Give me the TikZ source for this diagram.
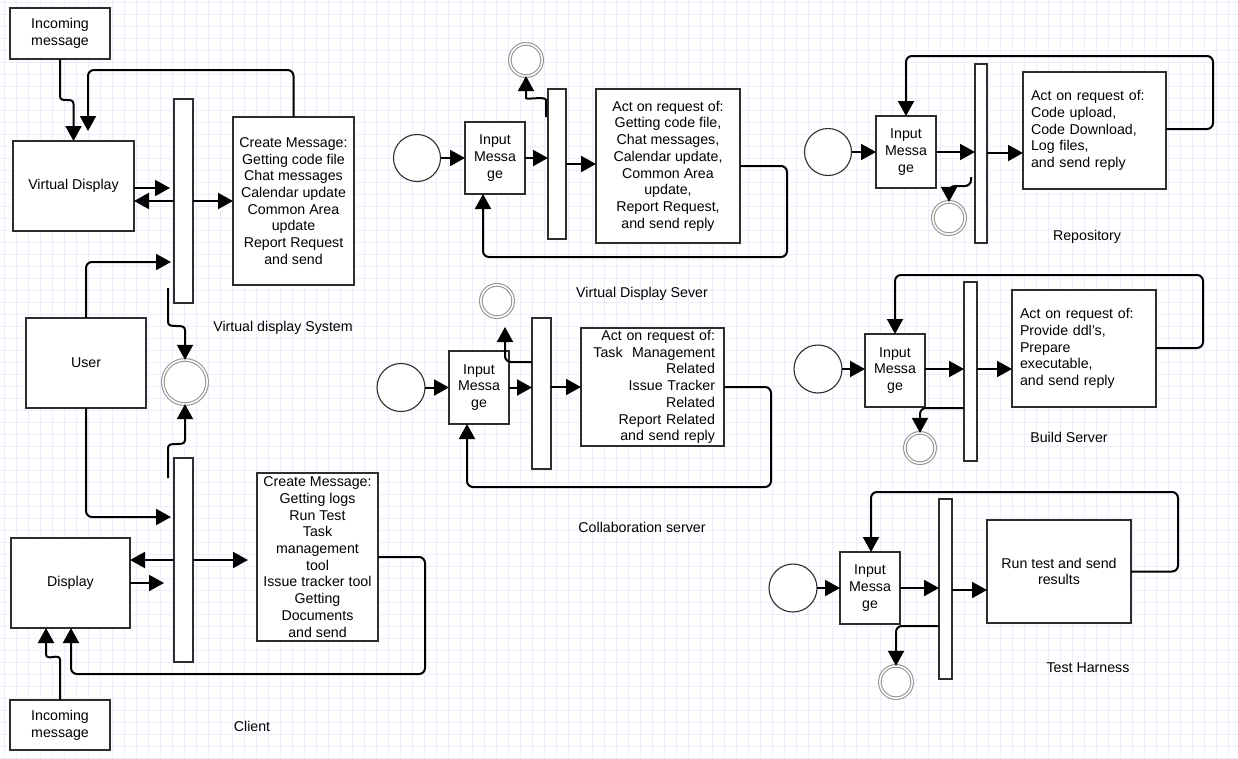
\documentclass[tikz,border=0pt]{standalone}
\usepackage{fontspec}
\setmainfont{Liberation Sans}
\usetikzlibrary{arrows.meta,calc}
\newcommand\dfont{\fontsize{14.2}{16.7}\selectfont}
\definecolor{gridc}{RGB}{237,237,253}
\definecolor{bordc}{RGB}{45,45,45}
\definecolor{endcol}{RGB}{150,150,150}
\tikzset{
 box/.style={draw=bordc, line width=1.3pt, fill=white, inner sep=0pt, outer sep=0pt, font=\dfont, align=center},
 barbox/.style={draw=bordc, line width=1.3pt, fill=white, inner sep=0pt, outer sep=0pt},
 startc/.style={circle, draw=bordc, line width=1.1pt, fill=white, inner sep=0pt, outer sep=0pt},
 endcirc/.style={circle, draw=endcol, double=white, double distance=1.5pt, line width=1.1pt, fill=white, inner sep=0pt, outer sep=0pt},
 conn/.style={line width=2pt, draw=black, rounded corners=6pt, -{Triangle[length=15pt,width=16pt]}},
 lbl/.style={font=\dfont, inner sep=0pt},
 gridline/.style={draw=gridc, line width=0.9pt}
}
\begin{document}
\begin{tikzpicture}[x=1pt,y=-1pt]
\useasboundingbox (0,0) rectangle (1238,758);
\fill[white] (0,0) rectangle (1238,758);
\foreach \gx in {4.7,16.7,...,1238} \draw[gridline] (\gx,0) -- (\gx,758);
\foreach \gy in {2,14,...,758} \draw[gridline] (0,\gy) -- (1238,\gy);

% ---------- Virtual display system / Client ----------
\node[box, minimum width=100pt, minimum height=51pt] (inc1) at (60,33.5) {Incoming\\message};
\node[box, minimum width=121pt, minimum height=90pt] (vd) at (73.5,186) {Virtual Display};
\node[barbox, minimum width=19pt, minimum height=204pt] (bar1) at (183.5,201) {};
\node[box, minimum width=121pt, minimum height=168pt] (cm1) at (293.5,201) {Create Message:\\Getting code file\\Chat messages\\Calendar update\\Common Area\\update\\Report Request\\and send};
\node[box, minimum width=120pt, minimum height=90pt] (user) at (86,363) {User};
\node[endcirc, minimum size=44.3pt] (endA) at (185,382) {};
\node[barbox, minimum width=19pt, minimum height=204pt] (bar2) at (183.5,560) {};
\node[box, minimum width=119pt, minimum height=90pt] (disp) at (70.5,583) {Display};
\node[box, minimum width=121pt, minimum height=168pt] (cm2) at (317.5,557) {Create Message:\\Getting logs\\Run Test\\Task\\management\\tool\\Issue tracker tool\\Getting\\Documents\\and send};
\node[box, minimum width=100pt, minimum height=50pt] (inc2) at (60,725) {Incoming\\message};
\node[lbl] (lvds) at (283,328) {Virtual display System};
\node[lbl] (lclient) at (252,726) {Client};

% ---------- Virtual Display Server ----------
\node[startc, minimum size=47pt] (s1) at (417,158) {};
\node[box, minimum width=60pt, minimum height=72pt] (in1) at (495,158) {Input\\Messa\\ge};
\node[barbox, minimum width=18pt, minimum height=150pt] (bar3) at (557,164) {};
\node[box, minimum width=144pt, minimum height=154pt] (act1) at (668,166) {Act on request of:\\Getting code file,\\Chat messages,\\Calendar update,\\Common Area\\update,\\Report Request,\\and send reply};
\node[endcirc, minimum size=32.3pt] (e1) at (526,60) {};
\node[lbl] (lvdsv) at (642,294) {Virtual Display Sever};

% ---------- Collaboration server ----------
\node[startc, minimum size=48pt] (s2) at (401,387.5) {};
\node[box, minimum width=60pt, minimum height=73pt] (in2) at (479,387.5) {Input\\Messa\\ge};
\node[barbox, minimum width=19pt, minimum height=151pt] (bar4) at (541.5,393.5) {};
\node[box, minimum width=143pt, minimum height=118pt, text width=125pt, align=right] (act2) at (652.5,387) {Act on request of:\\Task\ \ Management\\Related\\Issue Tracker\\Related\\Report Related\\and send reply};
\node[endcirc, minimum size=32.3pt] (e2) at (497,301) {};
\node[lbl] (lcollab) at (642,527) {Collaboration server};

% ---------- Repository ----------
\node[startc, minimum size=47pt] (s3) at (828,152) {};
\node[box, minimum width=60pt, minimum height=72pt] (in3) at (906,152) {Input\\Messa\\ge};
\node[barbox, minimum width=12pt, minimum height=179pt] (bar5) at (981,153.5) {};
\node[box, minimum width=143pt, minimum height=117pt, text width=127pt, align=left] (act3) at (1094.5,130.5) {Act on request of:\\Code upload,\\Code Download,\\Log files,\\and send reply};
\node[endcirc, minimum size=32.3pt] (e3) at (949,218) {};
\node[lbl] (lrepo) at (1087,237) {Repository};

% ---------- Build Server ----------
\node[startc, minimum size=48pt] (s4) at (818,369) {};
\node[box, minimum width=60pt, minimum height=73pt] (in4) at (895,370.5) {Input\\Messa\\ge};
\node[barbox, minimum width=13pt, minimum height=179pt] (bar6) at (970.5,371.5) {};
\node[box, minimum width=144pt, minimum height=117pt, text width=128pt, align=left] (act4) at (1084,348.5) {Act on request of:\\Provide ddl's,\\Prepare\\executable,\\and send reply};
\node[endcirc, minimum size=30.3pt] (e4) at (920,448) {};
\node[lbl] (lbuild) at (1069,437) {Build Server};

% ---------- Test Harness ----------
\node[startc, minimum size=48pt] (s5) at (793,588) {};
\node[box, minimum width=60pt, minimum height=72pt] (in5) at (870,588) {Input\\Messa\\ge};
\node[barbox, minimum width=13pt, minimum height=180pt] (bar7) at (945.5,589) {};
\node[box, minimum width=144pt, minimum height=103pt] (run) at (1059,571.5) {Run test and send\\results};
\node[endcirc, minimum size=32.3pt] (e5) at (896,682) {};
\node[lbl] (ltest) at (1088,668) {Test Harness};

% ---------- connectors: left ----------
\coordinate (vdin2) at (88,131);
\coordinate (b1out) at (168,288);
\coordinate (b2out) at (168,478);
\draw[conn] (inc1.south) -- (60,90) .. controls (60,104) and (73.5,96) .. (73.5,110) -- (vd.north);
\draw[conn] (cm1.north) |- (vdin2 |- 0,70) -- (vdin2);
\draw[conn] (vd.east |- 0,188) -- ($(bar1.west |- 0,188)+(-4,0)$);
\draw[conn] (bar1.west |- 0,201) -- (vd.east |- 0,201);
\draw[conn] (bar1.east |- 0,201) -- (cm1.west |- 0,201);
\draw[conn] (user.north) |- ($(bar1.west |- 0,262)+(-3,0)$);
\draw[conn] (b1out) -- (168,316) .. controls (168,330) and (185,322) .. (185,336) -- (endA.north);
\draw[conn] (b2out) -- (168,454) .. controls (168,440) and (185,448) .. (185,434) -- (endA.south);
\draw[conn] (user.south) |- ($(bar2.west |- 0,517)+(-3,0)$);
\draw[conn] (bar2.west |- 0,560) -- (disp.east |- 0,560);
\draw[conn] (disp.east |- 0,583) -- ($(bar2.west |- 0,583)+(-10,0)$);
\draw[conn] (bar2.east |- 0,560) -- ($(cm2.west |- 0,560)+(-9,0)$);
\draw[conn] (cm2.east) -- (425,557) |- (71,674) -- (disp.south -| 71,0);
\draw[conn] (inc2.north) -- (60,666) .. controls (60,652) and (46,662) .. (46,648) -- (disp.south -| 46,0);

% ---------- connectors: Virtual Display Server ----------
\coordinate (b3out) at (546,117);
\draw[conn] (s1.east) -- (in1.west |- s1.east);
\draw[conn] (in1.east) -- (bar3.west |- in1.east);
\draw[conn] (bar3.east |- 0,164) -- (act1.west |- 0,164);
\draw[conn] (act1.east) -- (787,166) |- (483,257) -- (in1.south -| 483,0);
\draw[conn] (b3out) -- (546,106) .. controls (546,96) and (526,100) .. (526,92) -- (e1.south);

% ---------- connectors: Collaboration ----------
\coordinate (e2in) at (505,327);
\draw[conn] (s2.east) -- (in2.west);
\draw[conn] (in2.east) -- (bar4.west |- in2.east);
\draw[conn] (bar4.east |- 0,387) -- (act2.west |- 0,387);
\draw[conn] (act2.east) -- (771,387) |- (467,487) -- (in2.south -| 467,0);
\draw[conn] (bar4.west |- 0,362) -| (e2in);

% ---------- connectors: Repository ----------
\coordinate (b5out) at (971,177);
\draw[conn] (s3.east) -- (in3.west);
\draw[conn] (in3.east) -- (bar5.west |- in3.east);
\draw[conn] (bar5.east |- 0,153) -- (act3.west |- 0,153);
\draw[conn] (act3.east |- 0,129) -- (1213,129) |- (906,56) -- (in3.north);
\draw[conn] (b5out) |- (949,186) -- (e3.north);

% ---------- connectors: Build ----------
\draw[conn] (s4.east) -- (in4.west |- s4.east);
\draw[conn] (in4.east |- 0,369) -- (bar6.west |- 0,369);
\draw[conn] (bar6.east |- 0,369) -- (act4.west |- 0,369);
\draw[conn] (act4.east |- 0,348) -- (1203,348) |- (895,275) -- (in4.north);
\draw[conn] (bar6.west |- 0,408) -| (e4.north);

% ---------- connectors: Test ----------
\draw[conn] (s5.east) -- (in5.west);
\draw[conn] (in5.east) -- (bar7.west |- in5.east);
\draw[conn] (bar7.east |- 0,590) -- (run.west |- 0,590);
\draw[conn] (run.east) -- (1178,571.5) |- (871,492) -- (in5.north -| 871,0);
\draw[conn] (bar7.west |- 0,626) -| (e5.north);
\end{tikzpicture}
\end{document}
